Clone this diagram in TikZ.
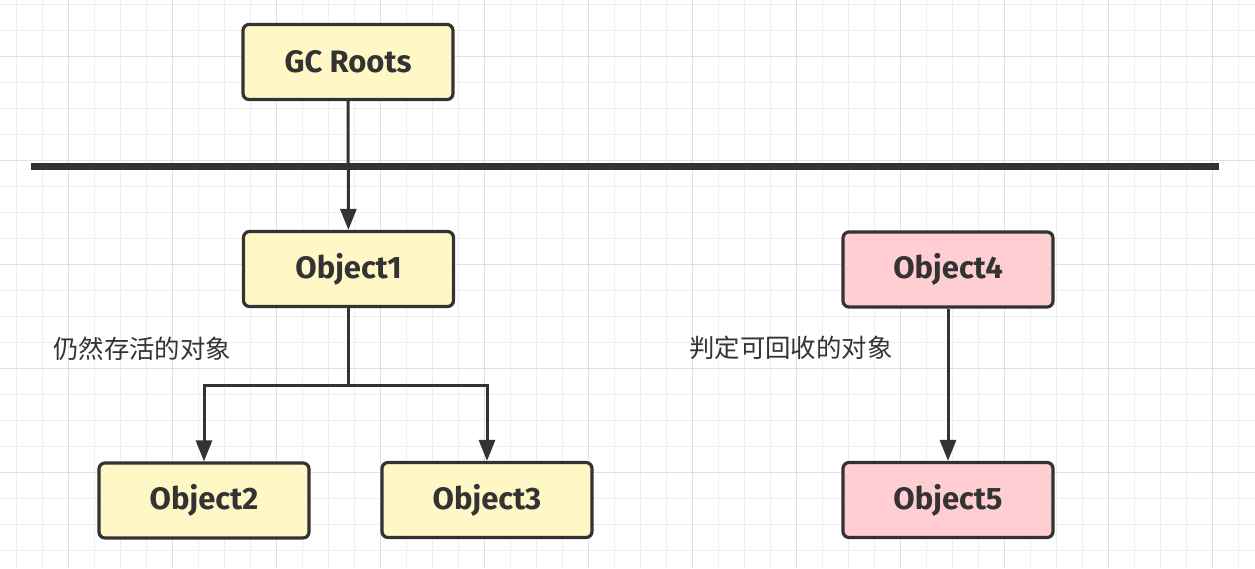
\documentclass[tikz,border=0pt]{standalone}
\usepackage{fontspec}
\setmainfont{Fira Sans}
\newfontfamily\cjk{Noto Sans CJK SC}
\usetikzlibrary{arrows.meta}
\definecolor{ink}{HTML}{333333}
\definecolor{yel}{HTML}{FFF8C6}
\definecolor{pnk}{HTML}{FFCED3}
\definecolor{gridminor}{HTML}{EEEEEE}
\definecolor{gridmajor}{HTML}{E0E0E0}
\begin{document}
\begin{tikzpicture}[x=1pt,y=-1pt,
  box/.style={draw=ink, line width=3.2pt, rounded corners=6pt, minimum width=210pt, minimum height=75pt, inner sep=0pt, font=\fontsize{31}{34}\selectfont\bfseries, text=ink},
  ybox/.style={box, fill=yel},
  pbox/.style={box, fill=pnk},
  link/.style={draw=ink, line width=3pt},
  conn/.style={link, -{Triangle[length=21pt,width=16pt]}},
  lbl/.style={font=\cjk\fontsize{25.4}{28}\selectfont, text=ink, anchor=west, inner sep=0pt},
  gminor/.style={draw=gridminor, line width=1pt},
  gmajor/.style={draw=gridmajor, line width=1pt}]
\fill[white] (0,0) rectangle (1255,568);
\useasboundingbox (0,0) rectangle (1255,568);
% grid
\foreach \i in {0,...,47} { \draw[gminor] ({16.7+26*\i},0) -- ({16.7+26*\i},568); }
\foreach \j in {0,...,21} { \draw[gminor] (0,{4.3+26*\j}) -- (1255,{4.3+26*\j}); }
\foreach \i in {2,6,...,46} { \draw[gmajor] ({16.7+26*\i},0) -- ({16.7+26*\i},568); }
\foreach \j in {2,6,...,18} { \draw[gmajor] (0,{4.3+26*\j}) -- (1255,{4.3+26*\j}); }
% separator
\draw[ink, line width=7pt] (31,166.8) -- (1219,166.8);
% nodes
\node[ybox] (gc) at (348,62) {GC Roots};
\node[ybox] (o1) at (348.5,269) {Object1};
\node[ybox] (o2) at (204,500.5) {Object2};
\node[ybox] (o3) at (487,500) {Object3};
\node[pbox] (o4) at (948,269.5) {Object4};
\node[pbox] (o5) at (948,500) {Object5};
\node[lbl] (alive) at (53,349) {仍然存活的对象};
\node[lbl] (dead) at (689,348) {判定可回收的对象};
% connectors
\coordinate (j) at (348.5,385);
\draw[conn] (gc) -- (o1);
\draw[link] (o1) -- (j);
\draw[conn] (j) -| (o2);
\draw[conn] (j) -| (o3);
\draw[conn] (o4) -- (o5);
\end{tikzpicture}
\end{document}
